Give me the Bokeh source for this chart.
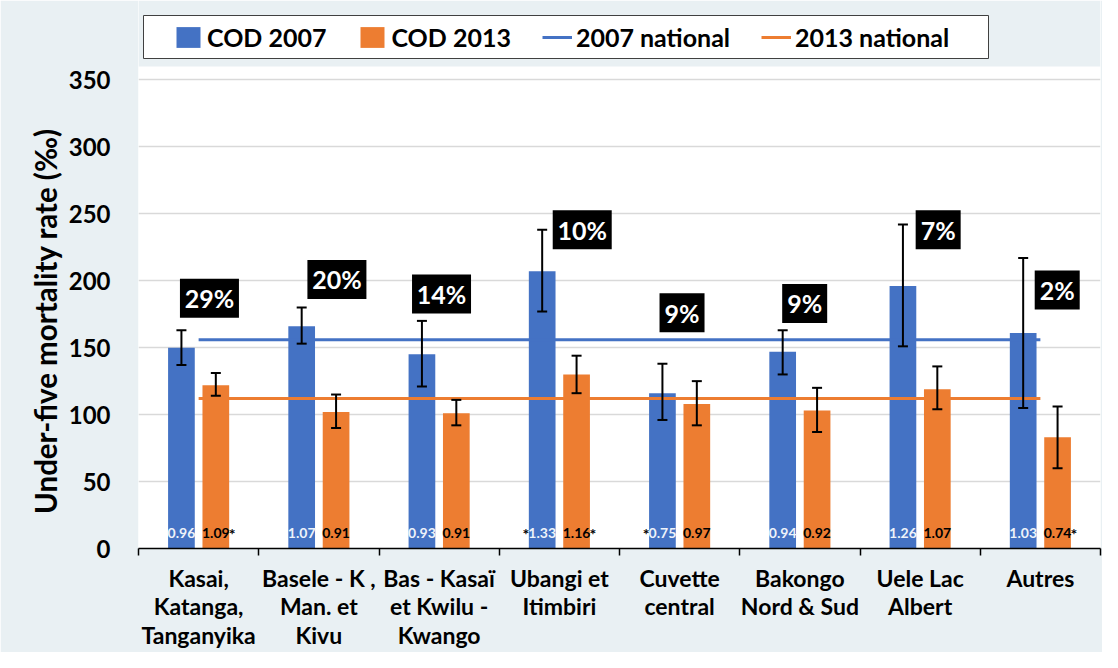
from bokeh.plotting import figure
from bokeh.models import (ColumnDataSource, FixedTicker, Whisker, TeeHead, Legend,
                          LegendItem, Range1d, BoxAnnotation)
from bokeh.core.properties import value
from bokeh.embed import file_html
from bokeh.resources import INLINE

# ---------------- data ----------------
categories = ["Kasai,\nKatanga,\nTanganyika", "Basele - K ,\nMan. et\nKivu",
              "Bas - Kasaï\net Kwilu -\nKwango", "Ubangi et\nItimbiri",
              "Cuvette\ncentral", "Bakongo\nNord & Sud", "Uele Lac\nAlbert", "Autres"]
cod2007 = [150, 166, 145, 207, 116, 147, 196, 161]
cod2007_low = [137, 153, 121, 177, 96, 130, 151, 105]
cod2007_high = [163, 180, 170, 238, 138, 163, 242, 217]
cod2013 = [122, 102, 101, 130, 108, 103, 119, 83]
cod2013_low = [114, 90, 92, 116, 92, 87, 104, 60]
cod2013_high = [131, 115, 111, 144, 125, 120, 136, 106]
ratio2007 = ["0.96", "1.07", "0.93", "1.33", "0.75", "0.94", "1.26", "1.03"]
ratio2013 = ["1.09", "0.91", "0.91", "1.16", "0.97", "0.92", "1.07", "0.74"]
star2007 = [0, 0, 0, 1, 1, 0, 0, 0]
star2013 = [1, 0, 0, 1, 0, 0, 0, 1]
shares = [29, 20, 14, 10, 9, 9, 7, 2]
national_2007 = 156
national_2013 = 112
y_ticks = [0, 50, 100, 150, 200, 250, 300, 350]

# annotation placement (layout only)
share_y = [187, 201, 190, 238, 176, 183, 238, 193]
share_dx = [0.09, 0.15, 0.02, 0.19, 0.02, 0.04, 0.15, 0.14]

# ---------------- style / layout ----------------
FONT = "Lato"
BLUE = "#4472C4"
ORANGE = "#ED7D31"
BG = "#E9F0F3"
OFF = 0.143
BW = 0.222
W, H = 1102, 652
ML, MR, MT, MB = 138, 2, 0, 104
PLOT_TOP_PX = 66          # canvas y where the white plot area starts
Y_MAX = 360               # value at the top of the white plot area

n = len(categories)
frame_w = W - ML - MR
frame_h = H - MT - MB
ppu = (frame_h - (PLOT_TOP_PX - MT)) / Y_MAX
y_end = frame_h / ppu
ppx = frame_w / n


def ydata(canvas_y):
    return (MT + frame_h - canvas_y) / ppu


def xdata(canvas_x):
    return -0.5 + (canvas_x - ML) / ppx


centers = list(range(n))
x07 = [c - OFF for c in centers]
x13 = [c + OFF for c in centers]

src = ColumnDataSource(dict(
    x07=x07, x13=x13, v07=cod2007, v13=cod2013,
    lo07=cod2007_low, hi07=cod2007_high, lo13=cod2013_low, hi13=cod2013_high,
    r07=ratio2007, r13=ratio2013,
))

p = figure(width=W, height=H, x_range=Range1d(-0.5, n - 0.5), y_range=Range1d(0, y_end),
           output_backend="svg", toolbar_location=None,
           min_border_left=ML, min_border_right=MR, min_border_top=MT, min_border_bottom=MB,
           background_fill_color="white", border_fill_color=BG)
p.outline_line_color = None

b07 = p.vbar(x="x07", top="v07", width=BW, source=src, fill_color=BLUE, line_color=None)
b13 = p.vbar(x="x13", top="v13", width=BW, source=src, fill_color=ORANGE, line_color=None)

l07 = p.line(x=[centers[0], centers[-1]], y=[national_2007, national_2007], line_color=BLUE, line_width=3)
l13 = p.line(x=[centers[0], centers[-1]], y=[national_2013, national_2013], line_color=ORANGE, line_width=3)

for base, lo, hi in (("x07", "lo07", "hi07"), ("x13", "lo13", "hi13")):
    w = Whisker(source=src, base=base, lower=lo, upper=hi, line_color="black", line_width=2,
                upper_head=TeeHead(size=10, line_color="black", line_width=2),
                lower_head=TeeHead(size=10, line_color="black", line_width=2),
                level="overlay")
    p.add_layout(w)

# ratio labels inside bars
LABEL_Y = 11.5
p.text(x="x07", y=LABEL_Y, text="r07", source=src, text_align="center", text_baseline="middle",
       text_font=value(FONT), text_font_style="bold", text_font_size="14px", text_color="#EEF3FA")
p.text(x="x13", y=LABEL_Y, text="r13", source=src, text_align="center", text_baseline="middle",
       text_font=value(FONT), text_font_style="bold", text_font_size="14px", text_color="black")

s07x = [x for x, s in zip(x07, star2007) if s]
s13x = [x for x, s in zip(x13, star2013) if s]
p.text(x=s07x, y=[LABEL_Y] * len(s07x), text=["*"] * len(s07x), x_offset=-13, text_align="right",
       text_baseline="middle", text_font=value(FONT), text_font_style="bold", text_font_size="16px",
       text_color="black")
p.text(x=s13x, y=[LABEL_Y] * len(s13x), text=["*"] * len(s13x), x_offset=13, text_align="left",
       text_baseline="middle", text_font=value(FONT), text_font_style="bold", text_font_size="16px",
       text_color="black")

# share labels
share_txt = [f"{s}%" for s in shares]
sx = [c + d for c, d in zip(centers, share_dx)]
sw = [59 if len(t) == 3 else 45 for t in share_txt]
p.rect(x=sx, y=share_y, width=sw, height=39, width_units="screen", height_units="screen",
       fill_color="black", line_color=None)
p.text(x=sx, y=share_y, text=share_txt, text_align="center", text_baseline="middle",
       text_font=value(FONT), text_font_style="bold", text_font_size="25px", text_color="white")

# axes
p.yaxis.ticker = FixedTicker(ticks=y_ticks)
p.yaxis.axis_line_color = None
p.yaxis.major_tick_line_color = None
p.yaxis.minor_tick_line_color = None
p.yaxis.major_label_text_font = FONT
p.yaxis.major_label_text_font_style = "bold"
p.yaxis.major_label_text_font_size = "24px"
p.yaxis.major_label_text_color = "black"
p.yaxis.major_label_standoff = 22
# trailing no-break spaces move the centred title down onto the 0-360 plot area
p.yaxis.axis_label = "Under-five mortality rate (‰)" + "\u00a0" * 13
p.yaxis.axis_label_text_font = FONT
p.yaxis.axis_label_text_font_style = "bold"
p.yaxis.axis_label_text_font_size = "29.5px"
p.yaxis.axis_label_text_color = "black"
p.yaxis.axis_label_standoff = 3

p.ygrid.ticker = FixedTicker(ticks=y_ticks[1:])
p.ygrid.grid_line_color = "#D9D9D9"
p.ygrid.grid_line_width = 1.5
p.xgrid.grid_line_color = None

p.xaxis.ticker = FixedTicker(ticks=centers, minor_ticks=[c - 0.5 for c in centers] + [n - 0.5])
p.xaxis.major_label_overrides = {c: lab for c, lab in zip(centers, categories)}
p.xaxis.major_tick_in = 0
p.xaxis.major_tick_out = 0
p.xaxis.minor_tick_in = 0
p.xaxis.minor_tick_out = 7
p.xaxis.minor_tick_line_color = "black"
p.xaxis.minor_tick_line_width = 1.5
p.xaxis.axis_line_color = "black"
p.xaxis.axis_line_width = 1.5
p.xaxis.major_label_text_font = FONT
p.xaxis.major_label_text_font_style = "bold"
p.xaxis.major_label_text_font_size = "23px"
p.xaxis.major_label_text_line_height = 1.02
p.xaxis.major_label_text_color = "black"
p.xaxis.major_label_standoff = 8

# background above the plot area, and the legend frame
p.add_layout(BoxAnnotation(bottom=Y_MAX, fill_color=BG, fill_alpha=1, line_color=None))
p.add_layout(BoxAnnotation(left=xdata(143), right=xdata(988), top=ydata(15), bottom=ydata(58),
                           fill_color="white", fill_alpha=1, line_color="#404040", line_width=1,
                           line_alpha=1))

legend = Legend(items=[LegendItem(label="COD 2007", renderers=[b07]),
                       LegendItem(label="COD 2013", renderers=[b13]),
                       LegendItem(label="2007 national", renderers=[l07]),
                       LegendItem(label="2013 national", renderers=[l13])],
                orientation="horizontal", location=(173 - ML, MT + frame_h - 52),
                label_text_font=FONT, label_text_font_style="bold", label_text_font_size="25px",
                label_text_color="black", glyph_width=30, glyph_height=26, label_standoff=4,
                spacing=31, padding=0, margin=0, border_line_color=None,
                background_fill_alpha=0)
p.add_layout(legend, "center")

open("out.html", "w").write(file_html(p, INLINE))
